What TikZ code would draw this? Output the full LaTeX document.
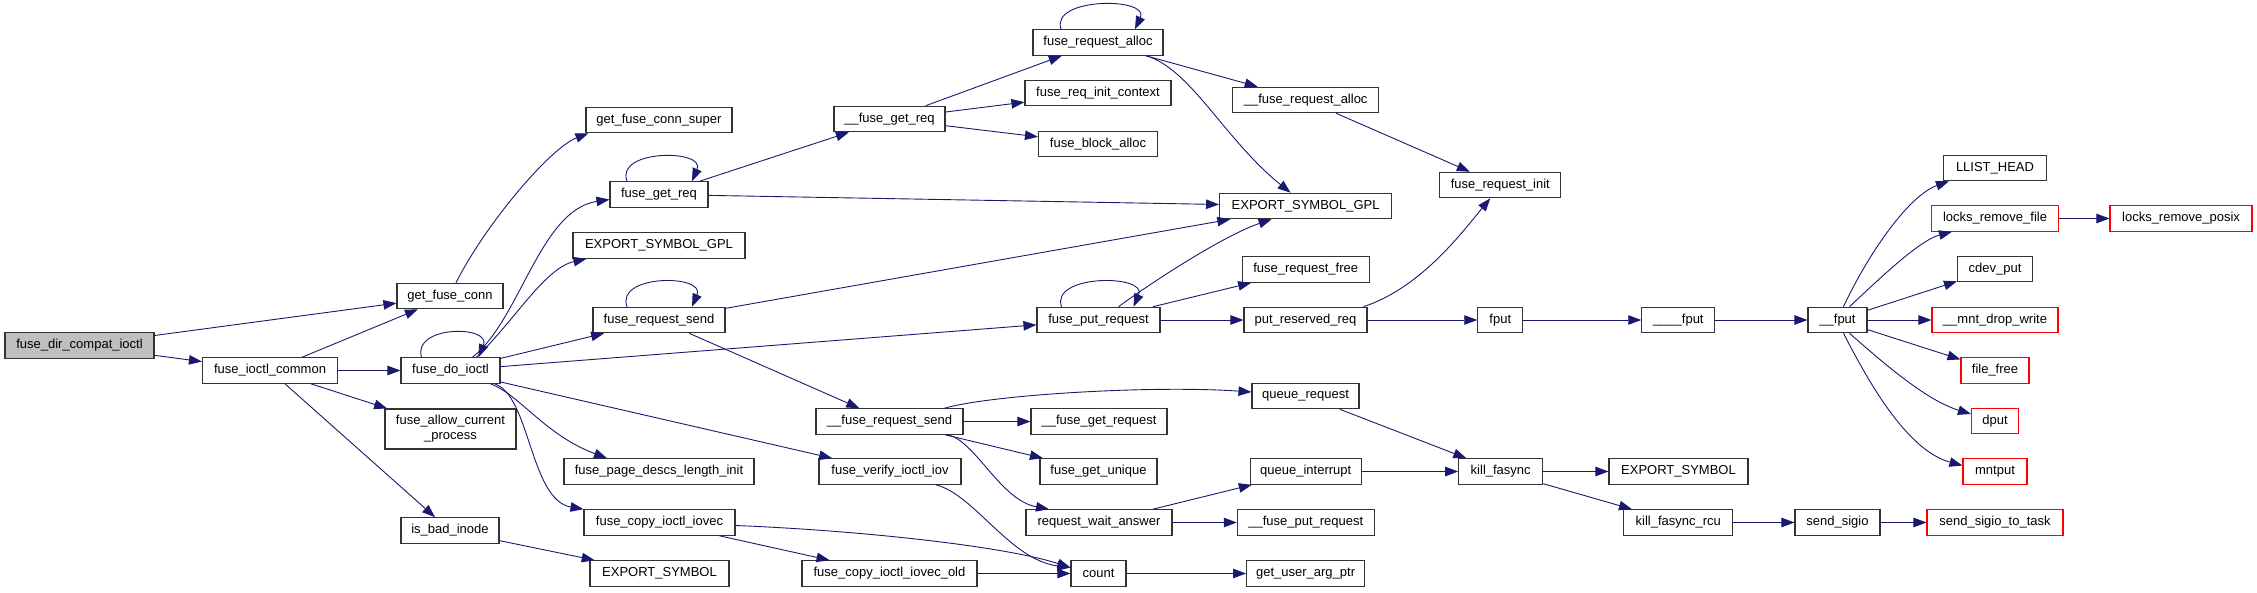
\documentclass[tikz,border=0pt]{standalone}
\usepackage{fontspec}
\setmainfont{Liberation Sans}
\usepackage{xcolor}
\usetikzlibrary{arrows.meta}
\definecolor{callblue}{HTML}{191970}
\definecolor{rootgray}{HTML}{BFBFBF}
\definecolor{extred}{HTML}{FF0000}

\begin{document}
\begin{tikzpicture}[x=1pt, y=-1pt,
  fn/.style={rectangle, draw=black!80, line width=1.1pt, fill=white, inner sep=0pt,
    minimum height=25.5pt, font=\fontsize{13}{15}\selectfont},
  root/.style={fn, fill=rootgray},
  ext/.style={fn, draw=extred},
  call/.style={draw=callblue, line width=0.9pt, -{Triangle[length=13pt, width=9.5pt]}}
]
\useasboundingbox (0,0) rectangle (2257,592);

\node[root, minimum width=149pt] (dircompat) at (79.5,345.5) {fuse\_dir\_compat\_ioctl};
\node[fn, minimum width=135pt] (ioctlcommon) at (270,370.5) {fuse\_ioctl\_common};
\node[fn, minimum width=106pt] (getconn) at (450,296) {get\_fuse\_conn};
\node[fn, minimum width=99pt] (doioctl) at (450.5,370.5) {fuse\_do\_ioctl};
\node[fn, minimum width=131pt, minimum height=40pt, align=center] (allowproc) at (450.5,429) {fuse\_allow\_current\\\_process};
\node[fn, minimum width=98pt] (badinode) at (450,530.5) {is\_bad\_inode};

\node[fn, minimum width=146pt] (connsuper) at (659,120) {get\_fuse\_conn\_super};
\node[fn, minimum width=98pt] (getreq) at (659,194.5) {fuse\_get\_req};
\node[fn, minimum width=172pt] (exportgplA) at (659,245.5) {EXPORT\_SYMBOL\_GPL};
\node[fn, minimum width=132pt] (reqsend) at (659,320) {fuse\_request\_send};
\node[fn, minimum width=190pt] (pagedescs) at (659,471.5) {fuse\_page\_descs\_length\_init};
\node[fn, minimum width=151pt] (copyiovec) at (659.5,522.5) {fuse\_copy\_ioctl\_iovec};
\node[fn, minimum width=139pt] (exportA) at (659.5,573.5) {EXPORT\_SYMBOL};

\node[fn, minimum width=111pt] (ugetreq) at (889.5,119) {\_\_fuse\_get\_req};
\node[fn, minimum width=147pt] (ureqsend) at (889.5,421.5) {\_\_fuse\_request\_send};
\node[fn, minimum width=142pt] (verifyiov) at (890,471.5) {fuse\_verify\_ioctl\_iov};
\node[fn, minimum width=175pt] (copyiovecold) at (889.5,573.5) {fuse\_copy\_ioctl\_iovec\_old};

\node[fn, minimum width=130pt] (reqalloc) at (1098,42.5) {fuse\_request\_alloc};
\node[fn, minimum width=146pt] (reqinitctx) at (1098,93) {fuse\_req\_init\_context};
\node[fn, minimum width=119pt] (blockalloc) at (1098,144) {fuse\_block\_alloc};
\node[fn, minimum width=123pt] (putreq) at (1098.5,320) {fuse\_put\_request};
\node[fn, minimum width=136pt] (ugetrequest) at (1099,421.5) {\_\_fuse\_get\_request};
\node[fn, minimum width=117pt] (getunique) at (1098.5,471.5) {fuse\_get\_unique};
\node[fn, minimum width=146pt] (waitanswer) at (1099,522.5) {request\_wait\_answer};
\node[fn, minimum width=55pt] (count) at (1098.5,573.5) {count};

\node[fn, minimum width=146pt] (ureqalloc) at (1305.7,100) {\_\_fuse\_request\_alloc};
\node[fn, minimum width=172pt] (exportgplB) at (1305.6,206) {EXPORT\_SYMBOL\_GPL};
\node[fn, minimum width=127pt] (reqfree) at (1305.7,269.5) {fuse\_request\_free};
\node[fn, minimum width=123pt] (putreserved) at (1305.5,320) {put\_reserved\_req};
\node[fn, minimum width=107pt] (queuereq) at (1305.5,396) {queue\_request};
\node[fn, minimum width=111pt] (queueint) at (1305.7,471.5) {queue\_interrupt};
\node[fn, minimum width=137pt] (uputreq) at (1305.8,522.5) {\_\_fuse\_put\_request};
\node[fn, minimum width=118pt] (userargptr) at (1305.6,573.5) {get\_user\_arg\_ptr};

\node[fn, minimum width=121pt] (reqinit) at (1500.3,185) {fuse\_request\_init};
\node[fn, minimum width=45pt] (fput) at (1500.3,320) {fput};
\node[fn, minimum width=84pt] (killfasync) at (1500.7,471.5) {kill\_fasync};

\node[fn, minimum width=73pt] (ufourfput) at (1678.3,320) {\_\_\_\_fput};
\node[fn, minimum width=139pt] (exportB) at (1678.5,471.5) {EXPORT\_SYMBOL};
\node[fn, minimum width=109pt] (killrcu) at (1678.3,522.5) {kill\_fasync\_rcu};

\node[fn, minimum width=59pt] (ufput) at (1837.5,320) {\_\_fput};
\node[fn, minimum width=85pt] (sendsigio) at (1837.5,522.5) {send\_sigio};

\node[fn, minimum width=103pt] (llisthead) at (1995,168) {LLIST\_HEAD};
\node[ext, minimum width=127pt] (lockfile) at (1995,218.5) {locks\_remove\_file};
\node[fn, minimum width=75pt] (cdevput) at (1995,269) {cdev\_put};
\node[ext, minimum width=126pt] (mntdrop) at (1995,320) {\_\_mnt\_drop\_write};
\node[ext, minimum width=68pt] (filefree) at (1995,370.5) {file\_free};
\node[ext, minimum width=47pt] (dput) at (1995,421) {dput};
\node[ext, minimum width=64pt] (mntput) at (1995,471.5) {mntput};
\node[ext, minimum width=136pt] (sigiotask) at (1995,522.5) {send\_sigio\_to\_task};
\node[ext, minimum width=142pt] (lockposix) at (2181,218.5) {locks\_remove\_posix};

\draw[call] (dircompat) -- (getconn);
\draw[call] (dircompat) -- (ioctlcommon);
\draw[call] (ioctlcommon) -- (getconn);
\draw[call] (ioctlcommon) -- (doioctl);
\draw[call] (ioctlcommon) -- (allowproc);
\draw[call] (ioctlcommon) -- (badinode);
\draw[call] ([xshift=6pt]getconn.north) .. controls (485,225) and (550,148) .. ([xshift=3pt]connsuper.south west);

\draw[call] ([xshift=-29pt]doioctl.north) .. controls (412,325) and (492,325) .. ([xshift=28pt]doioctl.north);
\draw[call] ([xshift=22pt]doioctl.north) .. controls (520,320) and (540,210) .. ([yshift=-5pt]getreq.west);
\draw[call] ([xshift=26pt]doioctl.north) .. controls (515,320) and (545,268) .. ([xshift=14pt]exportgplA.south west);
\draw[call] (doioctl) -- (reqsend);
\draw[call] (doioctl) -- (putreq);
\draw[call] (doioctl) -- (verifyiov);
\draw[call] ([xshift=40pt]doioctl.south) .. controls (520,395) and (545,435) .. ([xshift=-52pt]pagedescs.north);
\draw[call] ([xshift=44pt]doioctl.south) .. controls (530,395) and (530,500) .. (copyiovec.north west);

\draw[call] ([xshift=-32pt]getreq.north) .. controls (615,149) and (706,149) .. ([xshift=33pt]getreq.north);
\draw[call] (getreq) -- (ugetreq);
\draw[call] (getreq) -- (exportgplB);
\draw[call] ([xshift=-32pt]reqsend.north) .. controls (615,274) and (706,274) .. ([xshift=33pt]reqsend.north);
\draw[call] (reqsend) -- (exportgplB);
\draw[call] (reqsend) -- (ureqsend);
\draw[call] (badinode) -- (exportA);
\draw[call] ([yshift=-3pt]copyiovec.east) .. controls (850,530) and (1000,545) .. ([yshift=6pt]count.west);
\draw[call] (copyiovec) -- (copyiovecold);
\draw[call] ([xshift=46pt]verifyiov.south) .. controls (975,495) and (1010,560) .. ([yshift=6pt]count.west);
\draw[call] (copyiovecold) -- (count);

\draw[call] (ugetreq) -- (reqalloc);
\draw[call] (ugetreq) -- (reqinitctx);
\draw[call] (ugetreq) -- (blockalloc);
\draw[call] ([xshift=-37pt]reqalloc.north) .. controls (1050,-3) and (1150,-3) .. ([xshift=37pt]reqalloc.north);
\draw[call] (reqalloc) -- (ureqalloc);
\draw[call] ([xshift=48pt]reqalloc.south) .. controls (1190,68) and (1225,140) .. ([xshift=-15pt]exportgplB.north);
\draw[call] (ureqalloc) -- (reqinit);

\draw[call] ([xshift=-37pt]putreq.north) .. controls (1050,274) and (1148,274) .. ([xshift=35pt]putreq.north);
\draw[call] ([xshift=20pt]putreq.north) .. controls (1155,280) and (1225,235) .. ([xshift=-34pt]exportgplB.south);
\draw[call] (putreq) -- (reqfree);
\draw[call] (putreq) -- (putreserved);
\draw[call] ([xshift=58pt]putreserved.north) .. controls (1420,288) and (1460,235) .. ([xshift=-10pt]reqinit.south);
\draw[call] (putreserved) -- (fput);
\draw[call] (fput) -- (ufourfput);
\draw[call] (ufourfput) -- (ufput);

\draw[call] ([xshift=55pt]ureqsend.north) .. controls (990,395) and (1150,385) .. ([yshift=4pt]queuereq.west);
\draw[call] (ureqsend) -- (ugetrequest);
\draw[call] (ureqsend) -- (getunique);
\draw[call] ([xshift=58pt]ureqsend.south) .. controls (975,440) and (1000,500) .. ([xshift=-50pt]waitanswer.north);
\draw[call] (waitanswer) -- (queueint);
\draw[call] (waitanswer) -- (uputreq);
\draw[call] (queuereq) -- (killfasync);
\draw[call] (queueint) -- (killfasync);
\draw[call] (count) -- (userargptr);
\draw[call] (killfasync) -- (exportB);
\draw[call] (killfasync) -- (killrcu);
\draw[call] (killrcu) -- (sendsigio);
\draw[call] (sendsigio) -- (sigiotask);

\draw[call] ([xshift=6pt]ufput.north) .. controls (1870,250) and (1910,195) .. ([xshift=6pt]llisthead.south west);
\draw[call] ([xshift=12pt]ufput.north) .. controls (1880,278) and (1920,240) .. ([xshift=21pt]lockfile.south west);
\draw[call] (ufput) -- (cdevput);
\draw[call] (ufput) -- (mntdrop);
\draw[call] (ufput) -- (filefree);
\draw[call] ([xshift=12pt]ufput.south) .. controls (1880,360) and (1925,400) .. ([yshift=7pt]dput.west);
\draw[call] ([xshift=6pt]ufput.south) .. controls (1865,375) and (1905,450) .. ([yshift=6pt]mntput.west);
\draw[call] (lockfile) -- (lockposix);
\end{tikzpicture}
\end{document}
